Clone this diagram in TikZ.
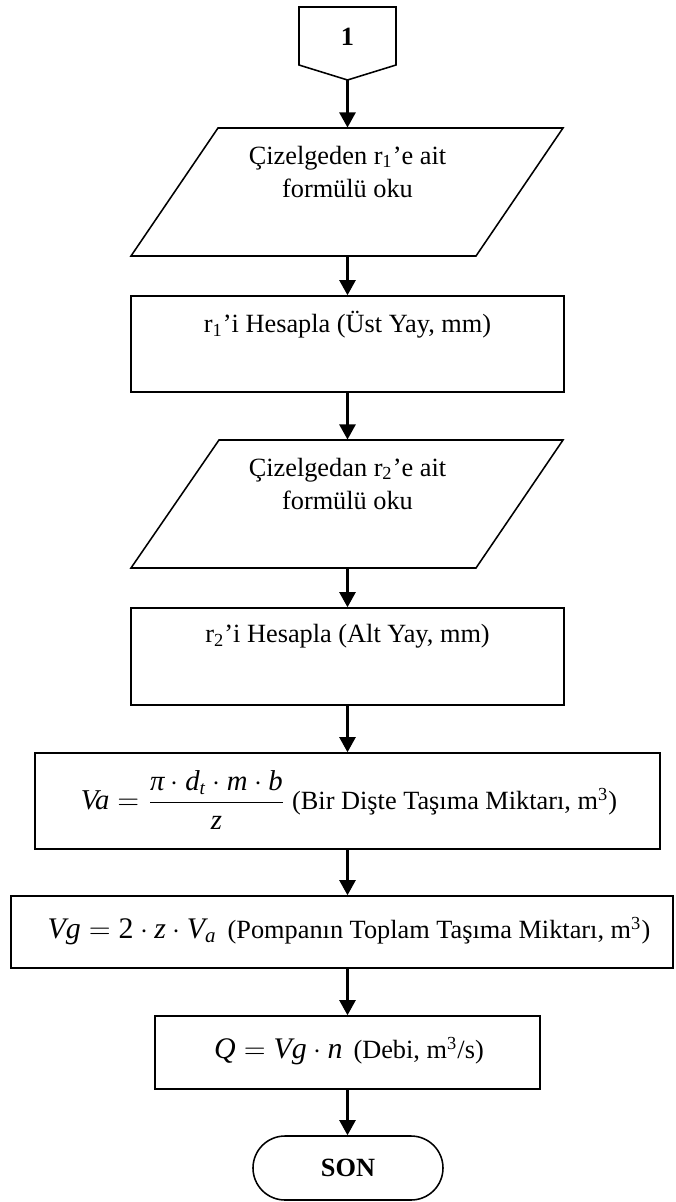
\documentclass[tikz,border=0pt]{standalone}
\usepackage{amsmath}
\usepackage{fontspec}
\setmainfont{Liberation Serif}
\usetikzlibrary{arrows.meta}
\newcommand\mv[1]{\textit{#1}}
\begin{document}
\begin{tikzpicture}[x=0.418pt,y=-0.418pt,
  box/.style={draw,line width=0.65pt,inner sep=0pt},
  hold/.style={inner sep=0pt,minimum width=1pt},
  lbl/.style={inner sep=0pt,align=center,font=\fontsize{11}{13.8}\selectfont},
  arr/.style={line width=1pt,-{Triangle[length=6.3pt,width=6.7pt]}}]
\useasboundingbox (0,0) rectangle (675,1202);
% off-page connector
\node[hold,minimum height={73*0.418pt}] (c1) at (347.5,43.5) {};
\draw[line width=0.65pt] (299,7) -- (396,7) -- (396,65) -- (347.5,80) -- (299,65) -- cycle;
\node[lbl,font=\fontsize{11}{13.8}\selectfont\bfseries] (t0) at (347.5,37) {1};
% parallelogram 1
\node[hold,minimum height={128*0.418pt}] (p1) at (347.5,192) {};
\draw[line width=0.65pt] (218,128) -- (563,128) -- (476,256) -- (131,256) -- cycle;
\node[lbl] (t1) at (347.5,171.5) {Çizelgeden r\textsubscript{1}’e ait\\formülü oku};
% rect 2
\node[box,minimum width={433*0.418pt},minimum height={96*0.418pt}] (r2) at (347.5,344) {};
\node[lbl] (t2) at (347.5,325) {r\textsubscript{1}’i Hesapla (Üst Yay, mm)};
% parallelogram 2
\node[hold,minimum height={128*0.418pt}] (p2) at (347.5,504) {};
\draw[line width=0.65pt] (219,440) -- (563,440) -- (476,568) -- (131,568) -- cycle;
\node[lbl] (t3) at (347.5,483.5) {Çizelgedan r\textsubscript{2}’e ait\\formülü oku};
% rect 4
\node[box,minimum width={433*0.418pt},minimum height={97*0.418pt}] (r4) at (347.5,656.5) {};
\node[lbl] (t4) at (347.5,636) {r\textsubscript{2}’i Hesapla (Alt Yay, mm)};
% rect 5
\node[box,minimum width={625*0.418pt},minimum height={96*0.418pt}] (r5) at (347.5,801) {};
\node[lbl] (t5) at (349,800) {{\fontsize{12}{14}\selectfont$\mv{Va}=\dfrac{\mv{π}\cdot\mv{d}_{\mv{t}}\cdot\mv{m}\cdot\mv{b}}{\mv{z}}$}\ (Bir Dişte Taşıma Miktarı, m\textsuperscript{3})};
% rect 6
\node[box,minimum width={662*0.418pt},minimum height={72*0.418pt}] (r6) at (342,932) {};
\node[lbl] (t6) at (349,931) {{\fontsize{12.5}{15}\selectfont$\mv{Vg}=\text{2}\cdot\mv{z}\cdot\mv{V}_{\mv{a}}$}\ \,(Pompanın Toplam Taşıma Miktarı, m\textsuperscript{3})};
% rect 7
\node[box,minimum width={385*0.418pt},minimum height={73*0.418pt}] (r7) at (347.5,1052.5) {};
\node[lbl] (t7) at (349,1051) {{\fontsize{12.5}{15}\selectfont$\mv{Q}=\mv{Vg}\cdot\mv{n}$}\ \,(Debi, m\textsuperscript{3}/s)};
% terminal
\node[box,minimum width={190*0.418pt},minimum height={64*0.418pt},rounded corners={32*0.418pt}] (end) at (348,1168) {};
\node[lbl,font=\fontsize{11}{13.8}\selectfont\bfseries] (t8) at (348,1168) {SON};
% arrows
\draw[arr] (c1.south) -- (p1.north);
\draw[arr] (p1.south) -- (r2.north);
\draw[arr] (r2.south) -- (p2.north);
\draw[arr] (p2.south) -- (r4.north);
\draw[arr] (r4.south) -- (r5.north);
\draw[arr] (r5.south) -- (r5.south |- r6.north);
\draw[arr] (r5.south |- r6.south) -- (r7.north);
\draw[arr] (r7.south) -- (r7.south |- end.north);
\end{tikzpicture}
\end{document}
